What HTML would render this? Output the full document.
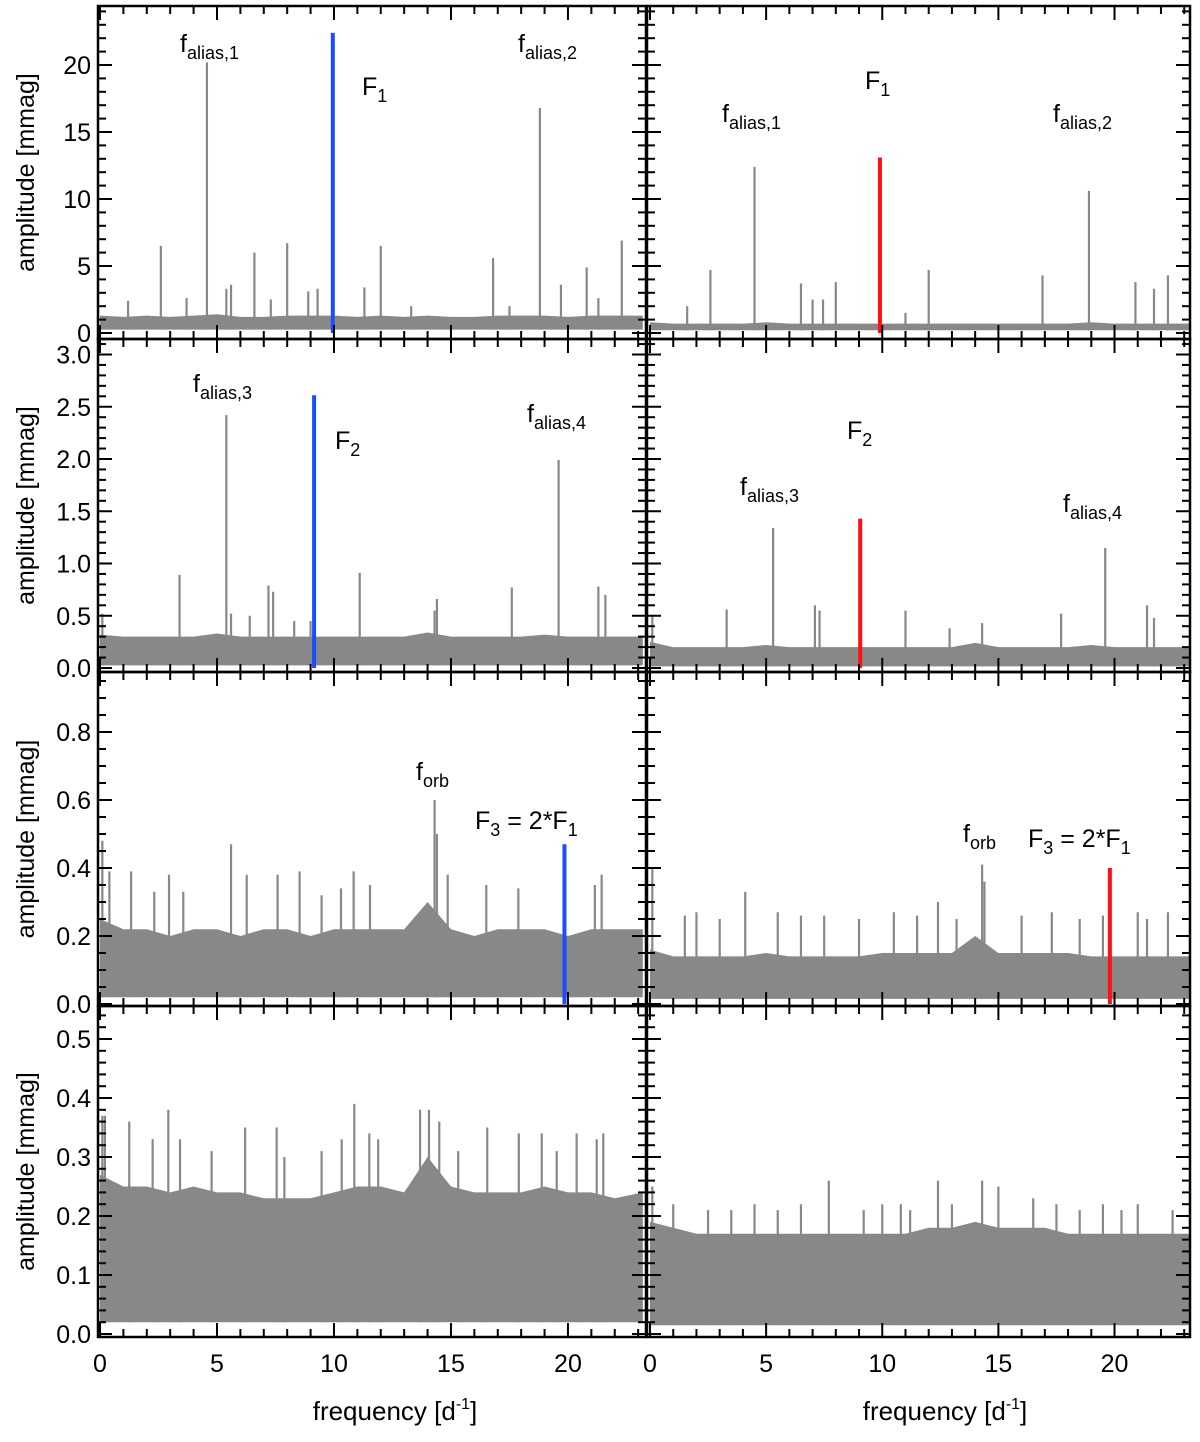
<!DOCTYPE html>
<html><head><meta charset="utf-8"><style>
html,body{margin:0;padding:0;background:#fff;}
svg{display:block;font-family:"Liberation Sans",sans-serif;}
</style></head><body>
<svg id="chart" width="1200" height="1442" viewBox="0 0 1200 1442" xmlns="http://www.w3.org/2000/svg"></svg>
<script>
// ---- data (frequency in d^-1, amplitude in mmag) ----
const noiseFreqs = [0,1,2,3,4,5,6,7,8,9,10,11,12,13,14,15,16,17,18,19,20,21,22,23.2];
const noiseTopA = [1.3,1.2,1.3,1.2,1.3,1.4,1.2,1.2,1.3,1.3,1.3,1.2,1.3,1.2,1.3,1.2,1.2,1.3,1.3,1.3,1.2,1.3,1.3,1.3];
const noiseTopB = [0.8,0.7,0.7,0.7,0.7,0.8,0.7,0.7,0.7,0.7,0.7,0.7,0.7,0.7,0.7,0.7,0.7,0.7,0.7,0.8,0.7,0.7,0.7,0.7];
const noiseTopC = [0.32,0.3,0.3,0.3,0.3,0.33,0.3,0.3,0.3,0.3,0.3,0.3,0.3,0.3,0.34,0.3,0.3,0.3,0.3,0.32,0.3,0.3,0.3,0.3];
const noiseTopD = [0.25,0.2,0.2,0.2,0.2,0.22,0.2,0.2,0.2,0.2,0.2,0.2,0.2,0.2,0.24,0.2,0.2,0.2,0.2,0.22,0.2,0.2,0.2,0.2];
const noiseTopE = [0.25,0.22,0.22,0.2,0.22,0.22,0.2,0.22,0.22,0.2,0.22,0.22,0.22,0.22,0.3,0.22,0.2,0.22,0.22,0.22,0.2,0.22,0.22,0.22];
const noiseTopF = [0.16,0.14,0.14,0.14,0.14,0.15,0.14,0.14,0.14,0.14,0.15,0.15,0.15,0.15,0.2,0.15,0.15,0.15,0.15,0.14,0.14,0.14,0.14,0.14];
const noiseTopG = [0.27,0.25,0.25,0.24,0.25,0.24,0.24,0.23,0.23,0.23,0.24,0.25,0.25,0.24,0.3,0.25,0.24,0.24,0.24,0.25,0.24,0.24,0.23,0.24];
const noiseTopH = [0.19,0.18,0.17,0.17,0.17,0.17,0.17,0.17,0.17,0.17,0.17,0.17,0.18,0.18,0.19,0.18,0.18,0.18,0.17,0.17,0.17,0.17,0.17,0.17];
const noiseFloor = [0.25,0.2,0.025,0.015,0.02,0.015,0.02,0.015];

const peakFreqA = [1.2,2.6,3.7,4.57,5.4,5.6,6.6,7.3,8.0,8.9,9.3,11.3,12.0,13.3,16.8,17.5,18.8,19.7,20.8,21.3,22.3];
const peakAmpA  = [2.4,6.5,2.6,20.2,3.3,3.6,6.0,2.5,6.7,3.1,3.3,3.4,6.5,2.0,5.6,2.0,16.8,3.6,4.9,2.6,6.9];
const peakFreqB = [1.6,2.6,4.5,6.5,7.0,7.45,8.0,11.0,12.0,16.9,18.9,20.9,21.7,22.3];
const peakAmpB  = [2.0,4.7,12.4,3.7,2.5,2.5,3.8,1.5,4.7,4.3,10.6,3.8,3.3,4.3];
const peakFreqC = [0.1,3.4,5.4,5.6,6.4,7.2,7.4,8.3,9.0,11.1,14.3,14.4,17.6,19.6,21.3,21.6];
const peakAmpC  = [0.52,0.89,2.42,0.52,0.5,0.79,0.73,0.45,0.45,0.91,0.55,0.66,0.77,1.99,0.78,0.7];
const peakFreqD = [0.1,3.3,5.3,7.1,7.3,11.0,12.9,14.3,17.7,19.6,21.4,21.7];
const peakAmpD  = [0.5,0.56,1.34,0.6,0.55,0.55,0.38,0.43,0.52,1.15,0.6,0.48];
const peakFreqE = [0.1,0.4,1.33,2.32,2.95,3.56,5.6,6.27,7.59,8.53,9.47,10.3,10.84,11.54,14.3,14.4,14.86,16.51,17.88,21.15,21.44];
const peakAmpE  = [0.48,0.39,0.39,0.33,0.38,0.33,0.47,0.38,0.38,0.39,0.32,0.34,0.39,0.35,0.6,0.5,0.38,0.35,0.34,0.35,0.38];
const peakFreqF = [0.1,1.5,2.0,3.0,4.1,5.5,6.5,7.5,9.0,10.5,11.5,12.4,13.2,14.3,14.4,16.0,17.3,18.5,19.5,21.0,21.4,22.3];
const peakAmpF  = [0.4,0.26,0.27,0.25,0.33,0.27,0.26,0.26,0.25,0.27,0.26,0.3,0.25,0.41,0.36,0.26,0.27,0.25,0.26,0.27,0.25,0.27];
const peakFreqG = [0.1,0.21,1.25,2.25,2.92,3.42,4.77,6.2,7.55,7.88,9.47,10.33,10.87,11.51,11.89,13.68,14.06,14.5,15.31,16.55,17.9,18.88,19.52,20.37,21.23,21.51];
const peakAmpG  = [0.37,0.37,0.36,0.33,0.38,0.33,0.31,0.35,0.35,0.30,0.31,0.33,0.39,0.34,0.33,0.38,0.38,0.36,0.31,0.35,0.34,0.34,0.31,0.34,0.33,0.34];
const peakFreqH = [0.1,1.0,2.5,3.5,4.5,5.5,6.5,7.7,9.2,10.0,10.8,11.2,12.4,13.0,14.3,15.0,16.5,17.5,18.5,19.5,20.3,21.0,22.5];
const peakAmpH  = [0.25,0.22,0.21,0.21,0.22,0.21,0.22,0.26,0.21,0.22,0.22,0.21,0.26,0.22,0.26,0.25,0.23,0.22,0.21,0.22,0.21,0.22,0.21];

const modeFreqs = [9.95,9.9,9.15,9.05,19.85,19.8];
const modeAmps  = [22.4,13.1,2.61,1.43,0.47,0.40];
const xTickLabels = ["0","5","10","15","20"];
const xTickValues = [0,5,10,15,20];
const yTicks1 = ["0","5","10","15","20"];
const yTicks2 = ["0.0","0.5","1.0","1.5","2.0","2.5","3.0"];
const yTicks3 = ["0.0","0.2","0.4","0.6","0.8"];
const yTicks4 = ["0.0","0.1","0.2","0.3","0.4","0.5"];

// ---- layout ----
const NS="http://www.w3.org/2000/svg";
const svg=document.getElementById('chart');
function mk(tag,attrs,parent){const e=document.createElementNS(NS,tag);for(const k in attrs)e.setAttribute(k,attrs[k]);(parent||svg).appendChild(e);return e;}
const cols=[{x0:100,x1:644,left:98},{x0:650,x1:1190,left:647}];
const rows=[
 {top:6,bot:339,zero:333,scale:13.4,minor:1,major:5,labels:yTicks1},
 {top:339,bot:672,zero:668,scale:104.5,minor:0.1,major:0.5,labels:yTicks2},
 {top:672,bot:1006,zero:1004,scale:340,minor:0.05,major:0.2,labels:yTicks3},
 {top:1006,bot:1337,zero:1334,scale:590,minor:0.02,major:0.1,labels:yTicks4}];
const XMAX=23.25;
const tops=[[noiseTopA,noiseTopB],[noiseTopC,noiseTopD],[noiseTopE,noiseTopF],[noiseTopG,noiseTopH]];
const pf=[[peakFreqA,peakFreqB],[peakFreqC,peakFreqD],[peakFreqE,peakFreqF],[peakFreqG,peakFreqH]];
const pa=[[peakAmpA,peakAmpB],[peakAmpC,peakAmpD],[peakAmpE,peakAmpF],[peakAmpG,peakAmpH]];

for(let r=0;r<4;r++){for(let c=0;c<2;c++){
 const R=rows[r],C=cols[c];
 const xs=f=>C.x0+f*(C.x1-C.x0)/XMAX;
 const ys=a=>R.zero-a*R.scale;
 const g=mk('g',{});
 
 
 const top=tops[r][c];const fl=noiseFloor[r*2+c];
 let pts=[];
 for(let i=0;i<noiseFreqs.length;i++)pts.push(xs(noiseFreqs[i]).toFixed(1)+','+ys(top[i]).toFixed(1));
 for(let i=noiseFreqs.length-1;i>=0;i--)pts.push(xs(noiseFreqs[i]).toFixed(1)+','+ys(fl).toFixed(1));
 const band=mk('polygon',{points:pts.join(' '),fill:'#888'},g);
 
 
 const F=pf[r][c],A=pa[r][c];
 for(let i=0;i<F.length;i++){
  const l=mk('line',{x1:xs(F[i]),x2:xs(F[i]),y1:ys(fl),y2:ys(A[i]),stroke:'#888','stroke-width':2.2},g);
  
  
 }
 const mi=r*2+c;
 if(r<3){
  const ml=mk('line',{x1:xs(modeFreqs[mi]),x2:xs(modeFreqs[mi]),y1:ys(0),y2:ys(modeAmps[mi]),stroke:c===0?'#1a4dff':'#ff1010','stroke-width':4},g);
  
  
 }
 const fr=mk('rect',{x:C.left,y:R.top,width:(c===0?646:1190)-C.left,height:R.bot-R.top,fill:'none',stroke:'#000','stroke-width':2.5},g);
 
 
 for(let f=0;f<=23;f++){
  const len=f%5===0?14:8;const x=xs(f);
  mk('line',{x1:x,x2:x,y1:R.bot,y2:R.bot-len,stroke:'#000','stroke-width':2},g);
  mk('line',{x1:x,x2:x,y1:R.top,y2:R.top+len,stroke:'#000','stroke-width':2},g);
 }
 const right=(c===0?646:1190);
 const nmin=Math.round((R.zero-R.top)/R.scale/R.minor);
 for(let k=0;k<=nmin;k++){
  const v=k*R.minor;const y=ys(v);if(y<R.top+2)continue;
  const isMaj=Math.abs(v/R.major-Math.round(v/R.major))<1e-6;const len=isMaj?14:8;
  mk('line',{x1:C.left,x2:C.left+len,y1:y,y2:y,stroke:'#000','stroke-width':2},g);
  mk('line',{x1:right,x2:right-len,y1:y,y2:y,stroke:'#000','stroke-width':2},g);
 }
 if(c===0){
  R.labels.forEach((t,i)=>{
   const v=parseFloat(t);const tl=mk('text',{x:91,y:ys(v)+9,'text-anchor':'end','font-size':25},g);
   tl.textContent=t;
   
   
  });
  const yt=mk('text',{x:0,y:0,'text-anchor':'middle','font-size':25,transform:'translate(34,'+((R.top+R.bot)/2)+') rotate(-90)'},g);
  yt.textContent='amplitude [mmag]';
  
  
 }
 if(r===3){
  xTickValues.forEach((v,i)=>{
   const tl=mk('text',{x:xs(v),y:1372,'text-anchor':'middle','font-size':25},g);
   tl.textContent=xTickLabels[i];
   
   
  });
  const xt=mk('text',{x:c===0?395:945,y:1420,'text-anchor':'middle','font-size':26},g);
  xt.innerHTML='frequency [d<tspan dy="-11" font-size="16">-1</tspan><tspan dy="11">]</tspan>';
  
  
 }
}}
const ann=[
 [180,52,'f','alias,1'],[362,95,'F','1'],[518,52,'f','alias,2'],
 [865,89,'F','1'],[722,122,'f','alias,1'],[1053,122,'f','alias,2'],
 [193,392,'f','alias,3'],[335,449,'F','2'],[527,422,'f','alias,4'],
 [847,439,'F','2'],[740,495,'f','alias,3'],[1063,512,'f','alias,4'],
 [416,780,'f','orb'],[963,842,'f','orb']];
ann.forEach(a=>{
 const t=mk('text',{x:a[0],y:a[1],'font-size':25});
 t.innerHTML=a[2]+'<tspan dy="7" font-size="18">'+a[3]+'</tspan>';
 
 
});
[[475,829],[1028,847]].forEach(p=>{
 const t=mk('text',{x:p[0],y:p[1],'font-size':25});
 t.innerHTML='F<tspan dy="7" font-size="18">3</tspan><tspan dy="-7"> = 2*F</tspan><tspan dy="7" font-size="18">1</tspan>';
 
 
});
</script>
</body></html>
